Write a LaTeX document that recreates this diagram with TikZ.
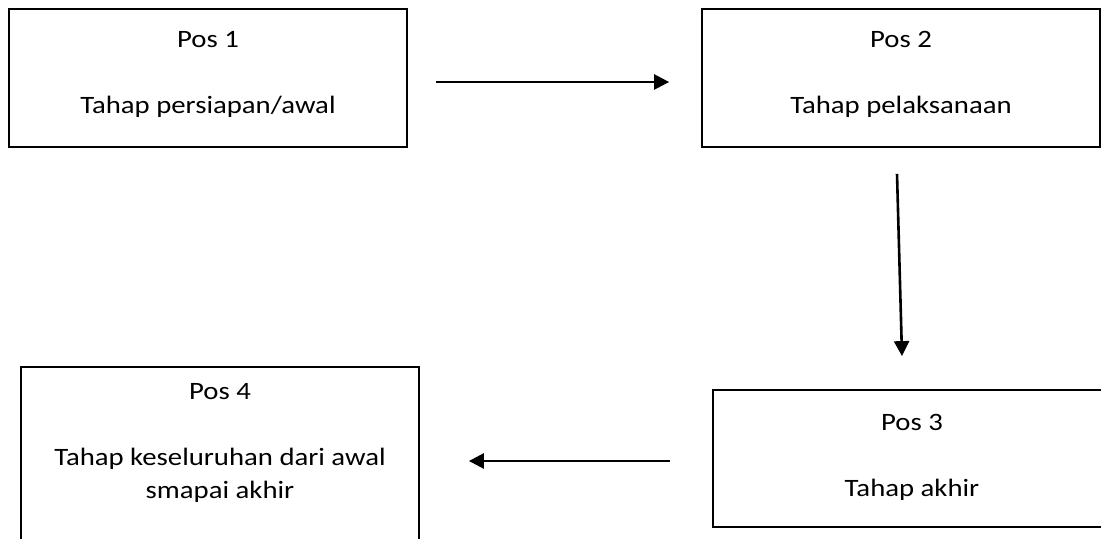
\documentclass[tikz,border=0pt]{standalone}
\usepackage{fontspec}
\setmainfont{Carlito}[FakeStretch=1.15]
\usetikzlibrary{arrows.meta}

\tikzset{
  posbox/.style={draw, line width=0.9pt, inner sep=0pt, minimum width=199pt},
  postext/.style={font=\fontsize{12.5}{16.5}\selectfont, align=center, anchor=base, inner sep=0pt},
  flow/.style={-{Triangle[length=7.5pt,width=7.5pt]}, line width=1.3pt},
}

\begin{document}
\begin{tikzpicture}[x=0.5pt,y=-0.5pt]
  \useasboundingbox (0,0) rectangle (1101,539);
  \clip (0,0) rectangle (1101,539);
  % boxes
  \node[posbox, minimum height=69pt] (pos1) at (208,78) {};
  \node[posbox, minimum height=69pt] (pos2) at (901,78) {};
  \node[posbox, minimum height=68.5pt] (pos3) at (912,458.5) {};
  \node[posbox, minimum height=94pt] (pos4) at (220,461) {};
  % texts
  \node[postext] (pos1title) at (208,48) {Pos 1};
  \node[postext] (pos1body) at (208,114) {Tahap persiapan/awal};
  \node[postext] (pos2title) at (901,48) {Pos 2};
  \node[postext] (pos2body) at (901,114) {Tahap pelaksanaan};
  \node[postext] (pos3title) at (912,430) {Pos 3};
  \node[postext] (pos3body) at (912,496) {Tahap akhir};
  \node[postext] (pos4title) at (220,399) {Pos 4};
  \node[postext] (pos4body) at (220,498) {Tahap keseluruhan dari awal\\smapai akhir};
  % arrows
  \draw[flow, shorten <=14pt, shorten >=16pt] ([yshift=-2pt]pos1.east) -- ([yshift=-2pt]pos2.west);
  \draw[flow] ([xshift=-2pt,yshift=-13pt]pos2.south) -- ([xshift=-5pt,yshift=16.5pt]pos3.north);
  \draw[flow, shorten <=21pt, shorten >=24.5pt] (pos3.west |- pos4.east) -- (pos4.east);
\end{tikzpicture}
\end{document}
